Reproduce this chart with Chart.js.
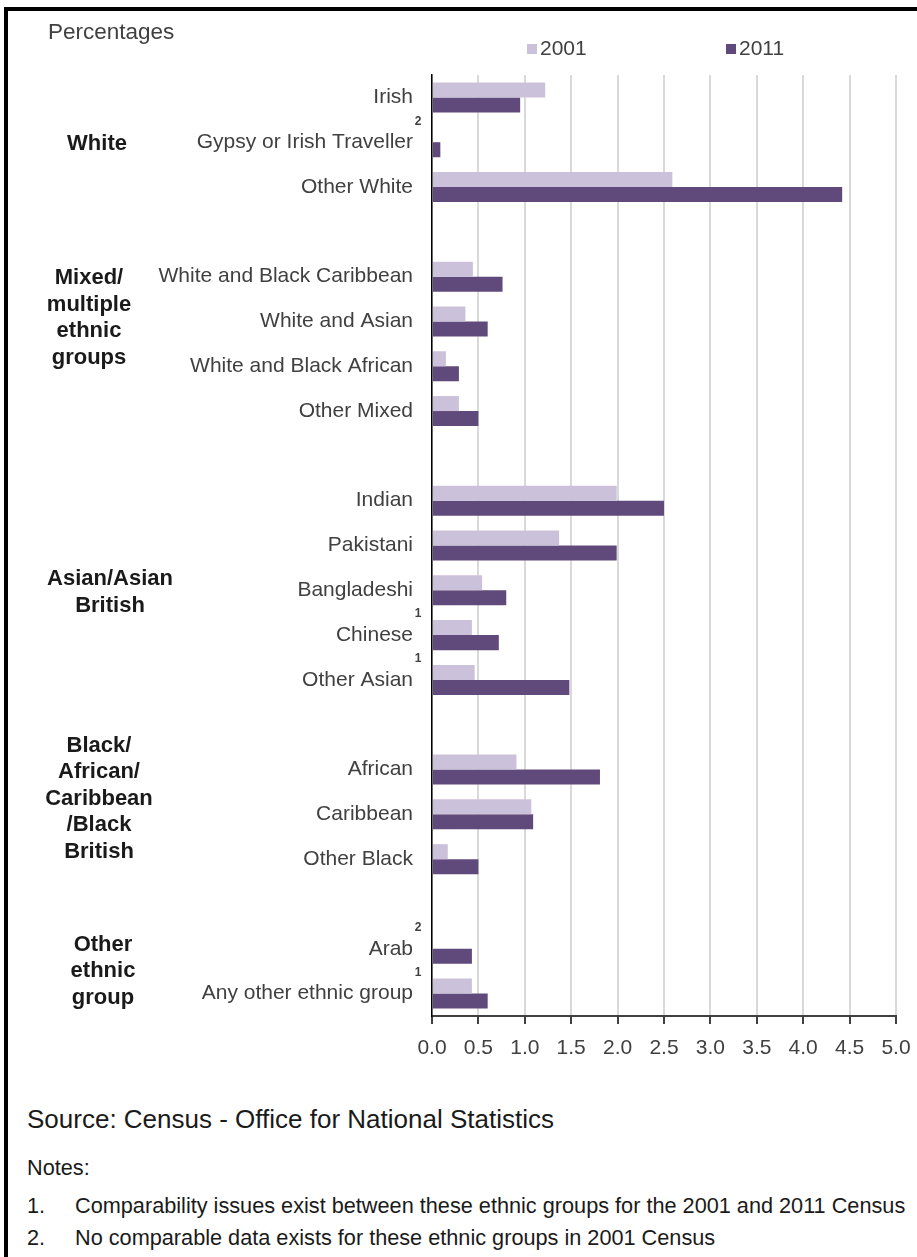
<!DOCTYPE html>
<html>
<head>
<meta charset="utf-8">
<title>Ethnic groups 2001 and 2011</title>
<script src="https://cdn.jsdelivr.net/npm/chart.js@4.4.1/dist/chart.umd.min.js"></script>
<style>
  html, body { margin: 0; padding: 0; background: #fff; }
  body { width: 917px; height: 1257px; position: relative; overflow: hidden;
         font-family: 'Liberation Sans', Arial, sans-serif; color: #1a1a1a; }
  .frame { position: absolute; left: 4px; top: 7px; width: 940px; height: 1300px;
           border-top: 4px solid #000; border-left: 4px solid #000; }
  #wrap { position: absolute; left: 0; top: 0; width: 917px; height: 1070px; }
  .txt { position: absolute; white-space: nowrap; }
  .source { left: 27px; top: 1104px; font-size: 26px; line-height: 30px; }
  .notes  { left: 27px; top: 1156px; font-size: 21.7px; line-height: 24px; }
  .n1, .n2 { left: 27px; font-size: 21.7px; line-height: 24px; }
  .n1 { top: 1194px; } .n2 { top: 1226px; }
  .n1 span, .n2 span { position: absolute; left: 48px; }
</style>
</head>
<body>
<div class="frame"></div>
<div id="wrap"><canvas id="ethnicChart"></canvas></div>
<div class="txt source">Source: Census - Office for National Statistics</div>
<div class="txt notes">Notes:</div>
<div class="txt n1">1.<span>Comparability issues exist between these ethnic groups for the 2001 and 2011 Census</span></div>
<div class="txt n2">2.<span>No comparable data exists for these ethnic groups in 2001 Census</span></div>

<script>
/* ===== DATA ===== */
// '' rows are the empty spacer rows between the groups
const categories = [
  'Irish', 'Gypsy or Irish Traveller', 'Other White', '',
  'White and Black Caribbean', 'White and Asian', 'White and Black African', 'Other Mixed', '',
  'Indian', 'Pakistani', 'Bangladeshi', 'Chinese', 'Other Asian', '',
  'African', 'Caribbean', 'Other Black', '',
  'Arab', 'Any other ethnic group'
];
const values2001 = [1.22, null, 2.59, null, 0.44, 0.36, 0.15, 0.29, null, 1.99, 1.37, 0.54, 0.43, 0.46, null, 0.91, 1.07, 0.17, null, null, 0.43];
const values2011 = [0.95, 0.09, 4.42, null, 0.76, 0.60, 0.29, 0.50, null, 2.50, 1.99, 0.80, 0.72, 1.48, null, 1.81, 1.09, 0.50, null, 0.43, 0.60];
const xTicks = [0, 0.5, 1, 1.5, 2, 2.5, 3, 3.5, 4, 4.5, 5];
const seriesNames = ['2001', '2011'];

const groupNames = [
  ['White'],
  ['Mixed/', 'multiple', 'ethnic', 'groups'],
  ['Asian/Asian', 'British'],
  ['Black/', 'African/', 'Caribbean', '/Black', 'British'],
  ['Other', 'ethnic', 'group']
];
// footnote marks next to some category labels
const noteMarks = { 'Gypsy or Irish Traveller': '2', 'Chinese': '1', 'Other Asian': '1', 'Arab': '2', 'Any other ethnic group': '1' };

/* ===== LAYOUT ===== */
const FONT = "'Liberation Sans', Arial, sans-serif";
const TEXT = '#404040';
const COLORS = ['#ccc1da', '#604a7b'];
// x centre of each group label block and the (fractional) row it is centred on
const groupPos = [ { x: 97, row: 1.04 }, { x: 89, row: 4.92 }, { x: 110, row: 11.05 }, { x: 99, row: 15.65 }, { x: 103, row: 19.5 } ];

const extras = {
  id: 'extras',
  afterDraw(chart) {
    const { ctx, scales: { y } } = chart;
    ctx.save();

    // unit label
    ctx.fillStyle = TEXT;
    ctx.font = `22.5px ${FONT}`;
    ctx.textBaseline = 'middle';
    ctx.textAlign = 'left';
    ctx.fillText('Percentages', 48, 33);

    // legend
    const legendX = [527, 726];
    chart.data.datasets.forEach((ds, i) => {
      ctx.fillStyle = ds.backgroundColor;
      ctx.fillRect(legendX[i], 44, 10, 10);
      ctx.fillStyle = TEXT;
      ctx.font = `21px ${FONT}`;
      ctx.fillText(ds.label, legendX[i] + 13, 49);
    });

    // group labels
    ctx.fillStyle = '#1a1a1a';
    ctx.font = `bold 22px ${FONT}`;
    ctx.textAlign = 'center';
    const lh = 26.6;
    groupNames.forEach((lines, g) => {
      const cy = y.getPixelForValue(groupPos[g].row);
      const y0 = cy - (lines.length - 1) * lh / 2;
      lines.forEach((t, k) => ctx.fillText(t, groupPos[g].x, y0 + k * lh));
    });

    // footnote marks
    ctx.fillStyle = TEXT;
    ctx.font = `bold 12px ${FONT}`;
    categories.forEach((c, i) => {
      if (!noteMarks[c]) return;
      const py = y.getPixelForValue(i);
      ctx.fillText(noteMarks[c], 418, py - 21);
    });
    ctx.restore();
  }
};

new Chart(document.getElementById('ethnicChart'), {
  type: 'bar',
  data: {
    labels: categories,
    datasets: [
      { label: seriesNames[0], data: values2001, backgroundColor: COLORS[0] },
      { label: seriesNames[1], data: values2011, backgroundColor: COLORS[1] }
    ]
  },
  options: {
    indexAxis: 'y',
    responsive: true,
    maintainAspectRatio: false,
    animation: false,
    layout: { padding: { top: 75, right: 21, left: 0, bottom: 0 } },
    datasets: { bar: { categoryPercentage: 0.67, barPercentage: 1.0, borderWidth: 0 } },
    plugins: { legend: { display: false }, tooltip: { enabled: false } },
    scales: {
      x: {
        type: 'linear', position: 'bottom', min: 0, max: 5,
        afterBuildTicks: s => { s.ticks = xTicks.map(v => ({ value: v })); },
        afterFit: s => { s.height = 54; s.paddingLeft = 0; s.paddingRight = 0; },
        grid: { color: '#d9d9d9', lineWidth: 2, tickLength: 8, tickColor: '#404040' },
        border: { color: '#404040', width: 2 },
        ticks: { padding: 12, color: TEXT, font: { family: FONT, size: 21 }, callback: v => Number(v).toFixed(1) }
      },
      y: {
        afterFit: s => { s.width = 432; },
        grid: { display: false },
        border: { color: '#000', width: 1.5 },
        ticks: { autoSkip: false, padding: 11, color: TEXT, font: { family: FONT, size: 21 } }
      }
    }
  },
  plugins: [extras]
});
</script>
</body>
</html>
